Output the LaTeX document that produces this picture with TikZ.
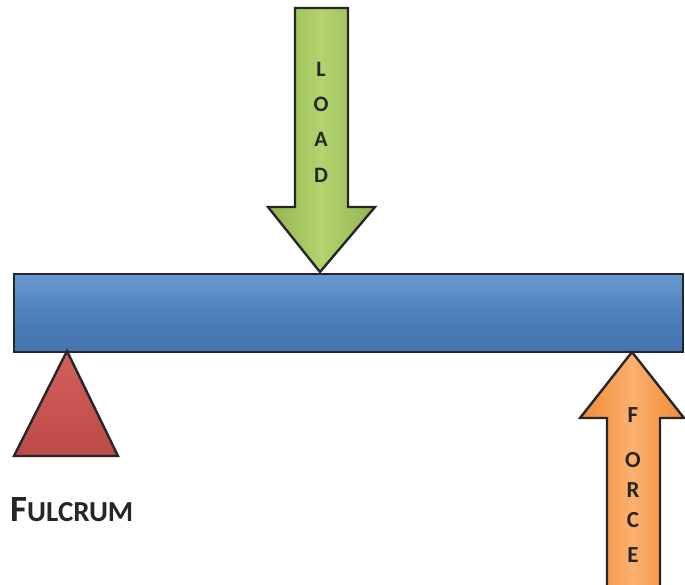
\documentclass[tikz,border=0pt]{standalone}
\usepackage{fontspec}
\setmainfont{Carlito}
\newfontfamily\labelfont{Carlito}[BoldFont=Carlito Bold]
\begin{document}
\begin{tikzpicture}[x=1pt,y=-1pt,
  outline/.style={draw=black!85, line width=2.4pt, line join=miter},
  beamfill/.style={top color=beamtop, bottom color=beambot, middle color=beammid},
  loadfill/.style={left color=loadedge, right color=loadedge, middle color=loadmid},
  forcefill/.style={left color=forceedge, right color=forceedge, middle color=forcemid},
  fulcfill/.style={top color=fulctop, bottom color=fulcbot},
  letter/.style={font=\labelfont\bfseries\fontsize{22}{22}\selectfont, text=black!85, inner sep=0pt},
  caption/.style={font=\labelfont\bfseries, text=black!85, inner sep=0pt, anchor=base west}]
\definecolor{beamtop}{HTML}{6A98D0}
\definecolor{beammid}{HTML}{4F81BD}
\definecolor{beambot}{HTML}{4573AE}
\definecolor{loadedge}{HTML}{93B54F}
\definecolor{loadmid}{HTML}{B2D36E}
\definecolor{forceedge}{HTML}{F08A36}
\definecolor{forcemid}{HTML}{FBB06E}
\definecolor{fulctop}{HTML}{D2605C}
\definecolor{fulcbot}{HTML}{BC4A46}

\useasboundingbox (0,0) rectangle (685,585);
\clip (0,0) rectangle (685,585);

% lever beam
\node[outline, beamfill, rectangle, minimum width=669pt, minimum height=78pt,
      inner sep=0pt, anchor=north west] (beam) at (13,273) {};

% fulcrum under the left end of the beam
\coordinate (apex) at (67,351);
\draw[outline, fulcfill] (apex) -- (118,456) -- (14,456) -- cycle;
\node[caption] (fulcrum) at (10,521)
  {{\fontsize{37}{37}\selectfont F}{\fontsize{29}{29}\selectfont ULCRUM}};

% load arrow pressing down on the beam
\coordinate (loadtip) at (320,272);
\draw[outline, loadfill] (295,8) -- (348,8) -- (348,207) -- (375,207)
  -- (loadtip) -- (268,207) -- (295,207) -- cycle;
\foreach \ch/\yy [count=\i] in {L/69,O/104,A/139,D/175}
  \node[letter] (load\i) at (321,\yy) {\ch};

% effort arrow pushing up at the right end
\coordinate (forcetip) at (632,352);
\draw[outline, forcefill] (607,600) -- (607,418) -- (580,418) -- (forcetip)
  -- (684,418) -- (660,418) -- (660,600);
\foreach \ch/\yy [count=\i] in {F/415,O/460,R/490,C/520,E/555}
  \node[letter, font=\labelfont\bfseries\fontsize{23}{23}\selectfont] (force\i) at (633,\yy) {\ch};
\end{tikzpicture}
\end{document}
